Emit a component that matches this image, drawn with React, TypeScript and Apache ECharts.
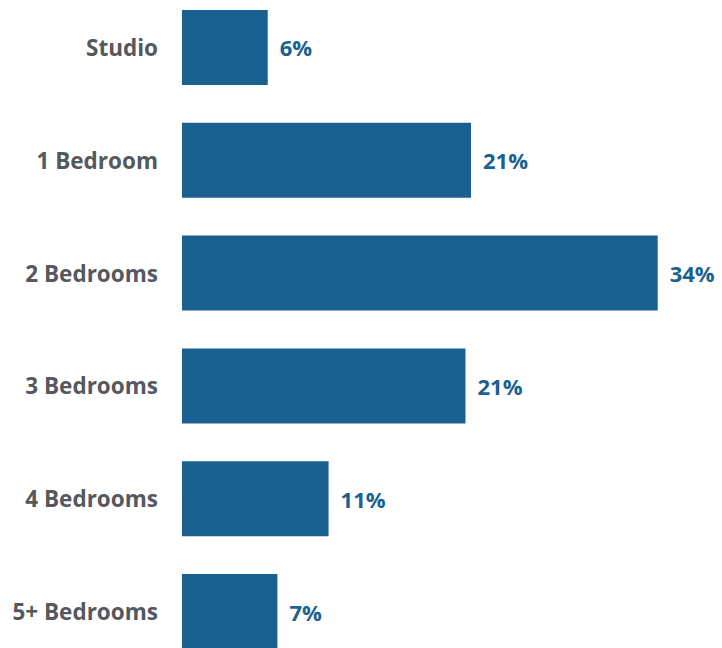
import React, { useEffect, useRef } from "react";
import * as echarts from "echarts";

const categories = ["Studio", "1 Bedroom", "2 Bedrooms", "3 Bedrooms", "4 Bedrooms", "5+ Bedrooms"];
const shares = [6.2, 20.9, 34.4, 20.5, 10.6, 6.9];

export default function App() {
  const ref = useRef<HTMLDivElement>(null);
  useEffect(() => {
    if (!ref.current) return;
    const chart = echarts.init(ref.current, undefined, { renderer: "svg" });
    chart.setOption({
      animation: false,
      grid: { left: 182, right: 14.5, top: 0, bottom: 0, containLabel: false },
      xAxis: { type: "value", min: 0, max: 38, show: false },
      yAxis: {
        type: "category",
        data: categories,
        inverse: true,
        axisLine: { show: false },
        axisTick: { show: false },
        axisLabel: {
          margin: 24,
          fontFamily: "Open Sans",
          fontWeight: "bold",
          fontSize: 22.5,
          color: "#55585c",
        },
      },
      series: [
        {
          type: "bar",
          data: shares,
          barWidth: 75,
          itemStyle: { color: "#1a6192" },
          label: {
            show: true,
            position: "right",
            distance: 12,
            fontFamily: "Open Sans",
            fontWeight: "bold",
            fontSize: 22,
            color: "#1a6192",
            formatter: (p: any) => Math.round(p.value) + "%",
          },
        },
      ],
    });
    return () => chart.dispose();
  }, []);
  return (
    <div
      ref={ref}
      style={{ position: "fixed", left: 0, top: -9.5, width: 722, height: 677, background: "#fff" }}
    />
  );
}
